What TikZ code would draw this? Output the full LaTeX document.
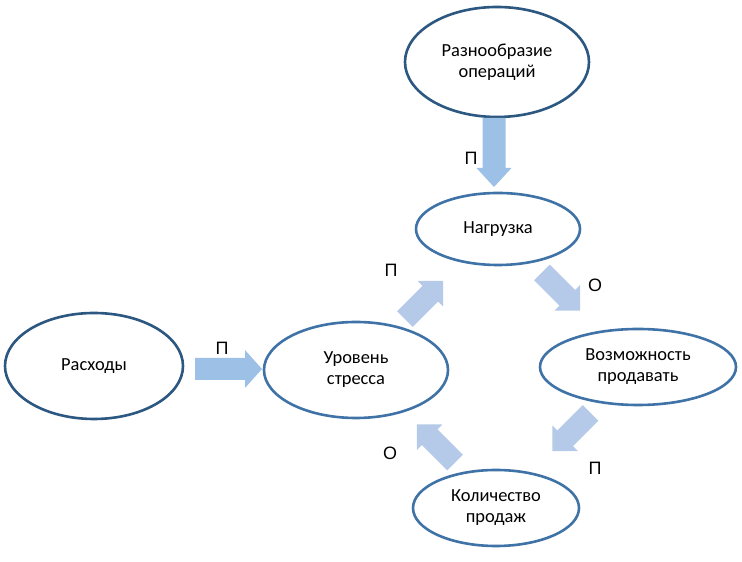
\documentclass[tikz,border=0pt]{standalone}
\usepackage{fontspec}
\setmainfont{Carlito}
\newfontfamily\labfont{Liberation Sans}
\usetikzlibrary{shapes.geometric}
\definecolor{darkline}{HTML}{2B5780}
\definecolor{midline}{HTML}{3F72A6}
\definecolor{arrstrong}{HTML}{9DC0E6}
\definecolor{arrlight}{HTML}{B5C9E8}
\tikzset{
  ell/.style={ellipse, draw=midline, line width=2.6bp, fill=white, inner sep=0pt, align=center, font=\fontsize{18.5}{21}\selectfont},
  ellDark/.style={ell, draw=darkline},
  lab/.style={font=\labfont\fontsize{18}{20}\selectfont, inner sep=0pt}
}
% #1 center, #2 angle, #3 length, #4 shaft half, #5 head half, #6 head length, #7 colour
\newcommand\blockarrow[7]{%
  \begin{scope}[shift={#1}, rotate=#2]
    \fill[#7] (-#3/2,-#4) -- (#3/2-#6,-#4) -- (#3/2-#6,-#5) -- (#3/2,0) -- (#3/2-#6,#5) -- (#3/2-#6,#4) -- (-#3/2,#4) -- cycle;
  \end{scope}}
\begin{document}
\begin{tikzpicture}[x=1bp,y=1bp]
\useasboundingbox (0,0) rectangle (742,562);
% nodes
\node[ellDark, minimum width=184bp, minimum height=110bp] (razn) at (497,500) {Разнообразие\\операций};
\node[ell, minimum width=164bp, minimum height=72bp] (nagr) at (498,333) {Нагрузка};
\node[ell, minimum width=196bp, minimum height=76bp] (vozm) at (638,195) {Возможность\\продавать};
\node[ell, minimum width=184bp, minimum height=96bp] (urov) at (356,192) {Уровень\\стресса};
\node[ellDark, minimum width=178bp, minimum height=106bp] (rash) at (94,196) {Расходы};
\node[ell, minimum width=166bp, minimum height=76bp] (kol) at (496,54) {Количество\\продаж};
% block arrows
\blockarrow{(494,409.5)}{-90}{69}{11.5}{17.5}{19}{arrstrong}
\blockarrow{(228.5,193)}{0}{67}{11}{19}{17}{arrstrong}
\blockarrow{(424,262)}{45}{54}{11}{18}{18}{arrlight}
\blockarrow{(561,270.5)}{-45}{54}{11}{18}{18}{arrlight}
\blockarrow{(571.5,130)}{-135}{54}{11}{18}{18}{arrlight}
\blockarrow{(436,118.5)}{135}{54}{11}{18}{18}{arrlight}
% labels
\node[lab] (l1) at (471,404) {П};
\node[lab] (l2) at (391,292) {П};
\node[lab] (l3) at (595,277) {О};
\node[lab] (l4) at (222,214) {П};
\node[lab] (l5) at (390,109) {О};
\node[lab] (l6) at (595,94) {П};
\end{tikzpicture}
\end{document}
